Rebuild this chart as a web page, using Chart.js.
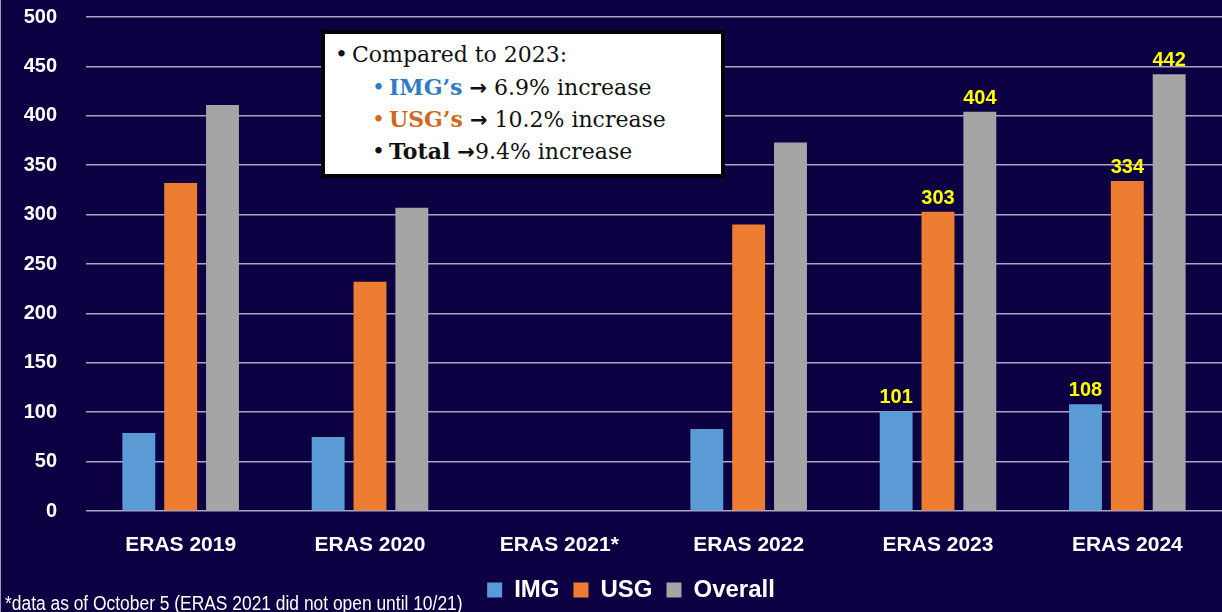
<!DOCTYPE html>
<html>
<head>
<meta charset="utf-8">
<script src="https://cdn.jsdelivr.net/npm/chart.js@4.4.1/dist/chart.umd.min.js"></script>
<style>
  html, body { margin: 0; padding: 0; background: #0C0042; }
  #wrap { position: relative; width: 1222px; height: 612px; background: #0C0042; overflow: hidden; }
  #c { position: absolute; left: 0; top: 0; }
  #edge { position: absolute; left: 0; top: 0; width: 1px; height: 612px; background: #9C9AB4; }
  #note { position: absolute; left: 321px; top: 30px; width: 396px; height: 135px;
          border: 4px solid #000; background: #fff; font-family: "DejaVu Serif", serif;
          font-size: 22px; color: #111; padding-top: 5px; box-sizing: content-box; }
  #note .ln { height: 32px; line-height: 32px; white-space: nowrap; position: relative; }
  #note .b { display: inline-block; width: 17px; }
  #note .ar { font-family: "DejaVu Sans", sans-serif; font-weight: bold; font-size: 21px; }
  #foot { position: absolute; left: 5px; top: 592px; font-family: "Liberation Sans", Arial, sans-serif;
          font-size: 20px; color: #fff; white-space: nowrap; line-height: 22px;
          transform: scaleX(0.87); transform-origin: 0 50%; }
</style>
</head>
<body>
<div id="wrap">
  <canvas id="c" width="1222" height="612"></canvas>
  <div id="edge"></div>
  <div id="note">
    <div class="ln" style="padding-left:10px"><span class="b">•</span>Compared to 2023:</div>
    <div class="ln" style="padding-left:47px"><span class="b" style="color:#2F7BC6">•</span><b style="color:#2F7BC6">IMG’s</b> <span class="ar">→</span> 6.9% increase</div>
    <div class="ln" style="padding-left:47px"><span class="b" style="color:#D0691F">•</span><b style="color:#D0691F">USG’s</b> <span class="ar">→</span> 10.2% increase</div>
    <div class="ln" style="padding-left:47px"><span class="b">•</span><b>Total</b> <span class="ar">→</span>9.4% increase</div>
  </div>
  <div id="foot">*data as of October 5 (ERAS 2021 did not open until 10/21)</div>
</div>
<script>
const categories = ['ERAS 2019', 'ERAS 2020', 'ERAS 2021*', 'ERAS 2022', 'ERAS 2023', 'ERAS 2024'];
const imgValues = [79, 75, null, 83, 101, 108];
const usgValues = [332, 232, null, 290, 303, 334];
const overallValues = [411, 307, null, 373, 404, 442];
const labeledCategories = ['ERAS 2023', 'ERAS 2024'];
const yTicks = [0, 50, 100, 150, 200, 250, 300, 350, 400, 450, 500];

const valueLabelPlugin = {
  id: 'valueLabels',
  afterDatasetsDraw(chart) {
    const ctx = chart.ctx;
    ctx.save();
    ctx.font = 'bold 20px "Liberation Sans", Arial, sans-serif';
    ctx.fillStyle = '#FFFF00';
    ctx.textAlign = 'center';
    ctx.textBaseline = 'alphabetic';
    chart.data.datasets.forEach((ds, di) => {
      const meta = chart.getDatasetMeta(di);
      chart.data.labels.forEach((lab, i) => {
        if (!labeledCategories.includes(lab)) return;
        const v = ds.data[i];
        if (v == null) return;
        const bar = meta.data[i];
        ctx.fillText(String(v), bar.x, bar.y - 8);
      });
    });
    ctx.restore();
  }
};

const legendShiftPlugin = {
  id: 'legendShift',
  afterLayout(chart) {
    if (chart.legend) { chart.legend.left += 8; chart.legend.right += 8; }
  }
};

new Chart(document.getElementById('c'), {
  type: 'bar',
  data: {
    labels: categories,
    datasets: [
      { label: 'IMG', data: imgValues, backgroundColor: '#5B9BD5' },
      { label: 'USG', data: usgValues, backgroundColor: '#ED7D31' },
      { label: 'Overall', data: overallValues, backgroundColor: '#A5A5A5' }
    ]
  },
  options: {
    responsive: false,
    animation: false,
    devicePixelRatio: 1,
    layout: { padding: { left: 20, right: -4, top: 17, bottom: 0 } },
    datasets: { bar: { categoryPercentage: 0.663, barPercentage: 0.786 } },
    scales: {
      x: {
        grid: { display: false, drawTicks: false },
        border: { display: false },
        ticks: { color: '#FFFFFF', padding: 22, font: { family: '"Liberation Sans", Arial, sans-serif', size: 21, weight: 'bold' } },
        afterFit(scale) { scale.height = 53; }
      },
      y: {
        min: 0, max: 500,
        afterBuildTicks(scale) { scale.ticks = yTicks.map(v => ({ value: v })); },
        grid: { color: '#A9A6C2', lineWidth: 1.5, drawTicks: true, tickLength: 29, tickColor: 'rgba(0,0,0,0)' },
        border: { display: false },
        ticks: { color: '#FFFFFF', padding: 0, font: { family: '"Liberation Sans", Arial, sans-serif', size: 20, weight: 'bold' } },
        afterFit(scale) { scale.width = 66; }
      }
    },
    plugins: {
      legend: {
        position: 'bottom',
        labels: {
          color: '#FFFFFF', boxWidth: 15, boxHeight: 15, padding: 14,
          font: { family: '"Liberation Sans", Arial, sans-serif', size: 24, weight: 'bold' }
        }
      },
      tooltip: { enabled: false }
    }
  },
  plugins: [valueLabelPlugin, legendShiftPlugin]
});
</script>
</body>
</html>
